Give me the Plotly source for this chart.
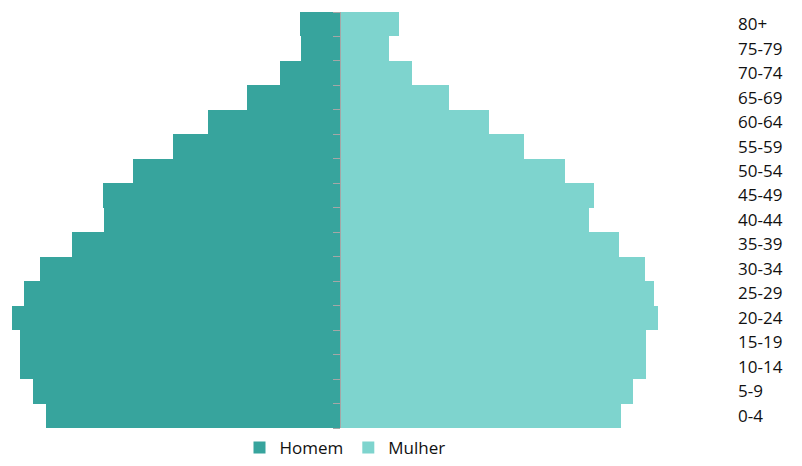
import plotly.graph_objects as go

age_groups = ["0-4", "5-9", "10-14", "15-19", "20-24", "25-29", "30-34", "35-39",
              "40-44", "45-49", "50-54", "55-59", "60-64", "65-69", "70-74", "75-79", "80+"]
homem = [294, 307, 320, 320, 328, 316, 300, 268, 236, 237, 207, 167, 132, 93, 60, 39, 40]
mulher = [281, 293, 306, 306, 318, 314, 305, 279, 249, 254, 225, 184, 149, 109, 72, 49, 59]

male_color = "#37A49D"
female_color = "#7ED4CE"
font_family = "Open Sans, Lato, sans-serif"

fig = go.Figure()
fig.add_trace(go.Bar(
    y=age_groups, x=[-v for v in homem], orientation="h", name="Homem",
    marker=dict(color=male_color, line=dict(width=0)),
    customdata=homem, hovertemplate="%{y}: %{customdata}<extra>Homem</extra>",
))
fig.add_trace(go.Bar(
    y=age_groups, x=mulher, orientation="h", name="Mulher",
    marker=dict(color=female_color, line=dict(width=0)),
    hovertemplate="%{y}: %{x}<extra>Mulher</extra>",
))
# helper trace to carry the central axis line with boundary ticks
fig.add_trace(go.Scatter(
    y=age_groups, x=[0] * len(age_groups), yaxis="y2", mode="markers",
    marker=dict(opacity=0), showlegend=False, hoverinfo="skip",
))

plot_right = 727
axis_px = 340

fig.update_layout(
    width=802, height=466,
    margin=dict(l=0, r=802 - plot_right, t=12, b=38, autoexpand=False),
    paper_bgcolor="white", plot_bgcolor="white",
    barmode="relative", bargap=0,
    font=dict(family=font_family, size=17, color="#111111"),
    xaxis=dict(range=[-axis_px, plot_right - axis_px], visible=False,
               showgrid=False, zeroline=False, fixedrange=True),
    yaxis=dict(type="category", categoryorder="array", categoryarray=age_groups,
               range=[-0.5, 16.5], side="right", showline=False, ticks="",
               showgrid=False, zeroline=False, ticklabelstandoff=10,
               tickfont=dict(size=17, color="#111111")),
    yaxis2=dict(type="category", categoryorder="array", categoryarray=age_groups,
                range=[-0.5, 16.5], overlaying="y", anchor="free",
                position=axis_px / plot_right, side="left",
                showline=True, linecolor="#A6A6A6", linewidth=1,
                ticks="outside", tickson="boundaries", ticklen=7,
                tickcolor="#A6A6A6", tickwidth=1,
                showticklabels=False, showgrid=False, zeroline=False),
    legend=dict(orientation="h", x=345 / plot_right, xanchor="center",
                yref="container", y=-0.01, yanchor="bottom",
                font=dict(size=17, color="#111111"),
                itemwidth=30, tracegroupgap=0),
    showlegend=True,
)

fig.write_html("out.html")
